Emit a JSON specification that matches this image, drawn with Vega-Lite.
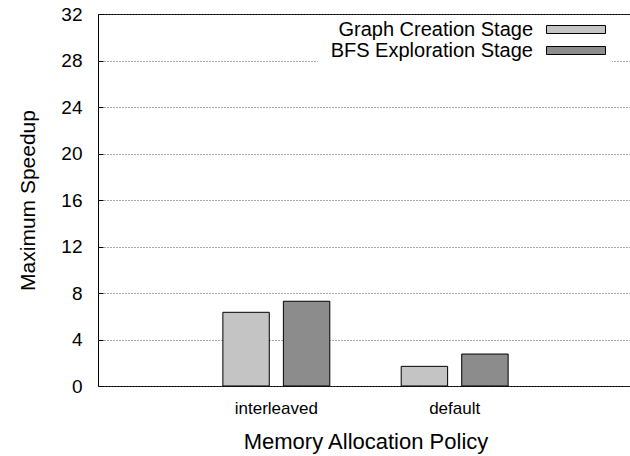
{
  "$schema": "https://vega.github.io/schema/vega-lite/v6.json",
  "width": 535,
  "height": 372,
  "autosize": "none",
  "padding": {"left": 98, "top": 14, "right": 0, "bottom": 70},
  "background": "white",
  "config": {
    "font": "Liberation Sans",
    "view": {"stroke": "black", "strokeWidth": 1}
  },
  "data": {
    "values": [
      {"policy": "interleaved", "stage": "Graph Creation Stage", "speedup": 6.34},
      {"policy": "interleaved", "stage": "BFS Exploration Stage", "speedup": 7.29},
      {"policy": "default", "stage": "Graph Creation Stage", "speedup": 1.69},
      {"policy": "default", "stage": "BFS Exploration Stage", "speedup": 2.75}
    ]
  },
  "mark": {"type": "bar", "stroke": "black", "strokeWidth": 1},
  "encoding": {
    "x": {
      "field": "policy",
      "type": "nominal",
      "sort": ["interleaved", "default"],
      "scale": {"paddingInner": 0, "paddingOuter": 0.5},
      "axis": {
        "title": "Memory Allocation Policy",
        "labelAngle": 0,
        "labelFontSize": 17,
        "labelPadding": 14,
        "labelColor": "black",
        "ticks": false,
        "domain": false,
        "grid": false,
        "titleFontSize": 22,
        "titleFontWeight": "normal",
        "titleColor": "black",
        "titlePadding": 15
      }
    },
    "xOffset": {
      "field": "stage",
      "type": "nominal",
      "sort": ["Graph Creation Stage", "BFS Exploration Stage"],
      "scale": {"paddingInner": 0.233, "paddingOuter": 0.59}
    },
    "y": {
      "field": "speedup",
      "type": "quantitative",
      "scale": {"domain": [0, 32], "nice": false},
      "axis": {
        "values": [0, 4, 8, 12, 16, 20, 24, 28, 32],
        "title": "Maximum Speedup",
        "titleFontSize": 21,
        "titleFontWeight": "normal",
        "titleColor": "black",
        "titlePadding": 22,
        "labelFontSize": 19,
        "labelColor": "black",
        "labelPadding": 21,
        "ticks": true,
        "tickSize": -5,
        "tickColor": "black",
        "tickWidth": 1,
        "domain": false,
        "grid": true,
        "gridColor": "#555555",
        "gridDash": [1, 2],
        "gridWidth": 1
      }
    },
    "fill": {
      "field": "stage",
      "type": "nominal",
      "scale": {
        "domain": ["Graph Creation Stage", "BFS Exploration Stage"],
        "range": ["#c4c4c4", "#8c8c8c"]
      },
      "legend": {
        "title": null,
        "orient": "none",
        "legendX": 220,
        "legendY": 1,
        "padding": 4,
        "fillColor": "white",
        "symbolType": "M-2.95,-0.4H2.95V0.4H-2.95Z",
        "symbolSize": 400,
        "symbolStrokeColor": "black",
        "symbolStrokeWidth": 1,
        "symbolOpacity": 1,
        "labelAlign": "right",
        "labelOffset": -53.5,
        "symbolOffset": 243.5,
        "labelFontSize": 20,
        "labelLimit": 400,
        "labelColor": "black",
        "rowPadding": 0
      }
    }
  }
}
